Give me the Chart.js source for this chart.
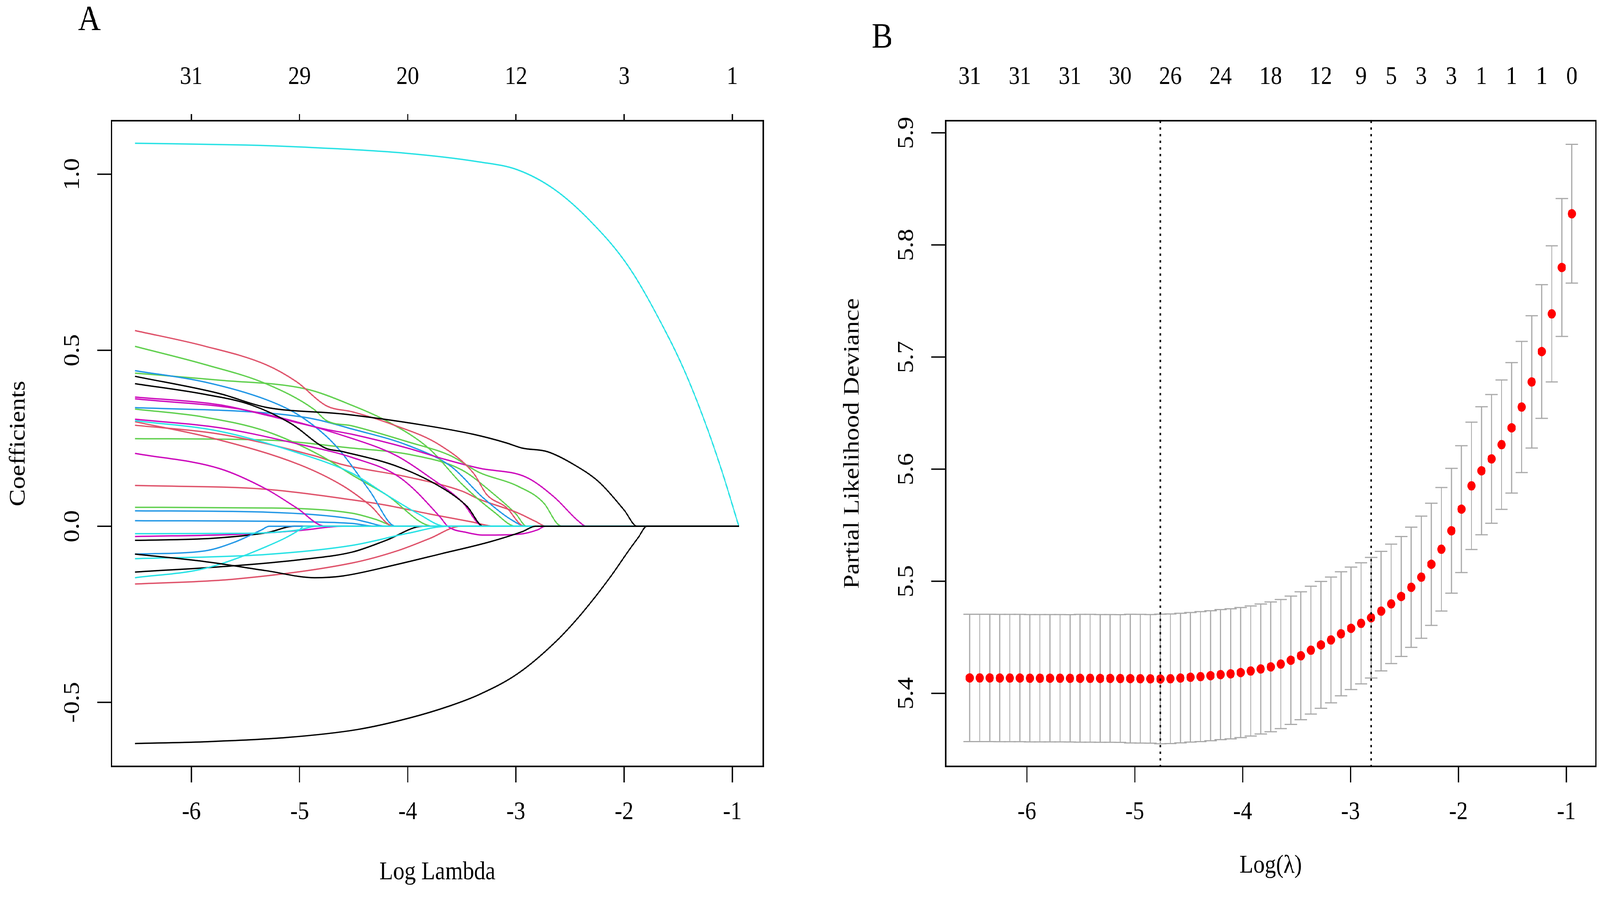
<!DOCTYPE html>
<html>
<head>
<meta charset="utf-8">
<title>LASSO coefficient paths and cross-validated deviance</title>
<script src="https://cdn.jsdelivr.net/npm/chart.js@4.4.0/dist/chart.umd.min.js"></script>
<style>
  html, body { margin: 0; padding: 0; background: #fff; overflow: hidden; }
  #wrap { position: relative; width: 4675px; height: 2304px; background: #fff; transform-origin: 0 0; }
  canvas { position: absolute; top: 0; }
  #panelA { left: 0; }
  #panelB { left: 2340px; }
</style>
</head>
<body>
<div id="wrap">
  <canvas id="panelA" width="2340" height="2304"></canvas>
  <canvas id="panelB" width="2335" height="2304"></canvas>
</div>
<script>
// ---------- Panel A: coefficient paths, [log lambda, coefficient] ----------
const black1 = [[-6.52,-0.617],[-5.88,-0.612],[-5.12,-0.6],[-4.46,-0.577],[-3.99,-0.545],[-3.61,-0.51],[-3.34,-0.478],[-2.99,-0.42],[-2.65,-0.333],[-2.39,-0.247],[-2.13,-0.145],[-1.96,-0.07],[-1.87,-0.032],[-1.79,0],[-0.94,0]];
const black2 = [[-6.52,0.426],[-5.74,0.377],[-5.31,0.338],[-4.6,0.319],[-3.85,0.287],[-3.39,0.261],[-3.09,0.237],[-2.94,0.222],[-2.71,0.212],[-2.48,0.178],[-2.23,0.125],[-2.0,0.046],[-1.88,0],[-0.94,0]];
const black3 = [[-6.52,0.405],[-5.88,0.375],[-5.45,0.345],[-5.08,0.292],[-4.76,0.222],[-4.6,0.212],[-4.07,0.167],[-3.655,0.104],[-3.45,0.056],[-3.3,0],[-0.94,0]];
const black4 = [[-6.52,-0.04],[-5.8,-0.034],[-5.3,-0.018],[-5.05,0],[-0.94,0]];
const black5 = [[-6.52,-0.079],[-5.88,-0.1],[-5.31,-0.126],[-4.86,-0.146],[-4.6,-0.141],[-4.15,-0.112],[-3.69,-0.078],[-3.24,-0.044],[-2.94,-0.015],[-2.82,0],[-0.94,0]];
const black6 = [[-6.52,-0.13],[-5.6,-0.112],[-5.0,-0.095],[-4.51,-0.073],[-4.2,-0.04],[-3.86,0],[-0.94,0]];

const red1 = [[-6.52,0.556],[-5.88,0.512],[-5.31,0.459],[-5.03,0.411],[-4.75,0.342],[-4.51,0.325],[-4.15,0.29],[-3.7,0.23],[-3.39,0.15],[-3.27,0.09],[-3.09,0.054],[-2.92,0],[-0.94,0]];
const red2 = [[-6.52,0.297],[-5.8,0.25],[-5.0,0.175],[-4.6,0.115],[-4.35,0.06],[-4.13,0],[-0.94,0]];
const red3 = [[-6.52,0.287],[-5.74,0.262],[-4.86,0.2],[-4.6,0.175],[-4.0,0.14],[-3.5,0.1],[-3.34,0.077],[-2.99,0.039],[-2.82,0.014],[-2.72,0],[-0.94,0]];
const red4 = [[-6.52,0.116],[-5.3,0.105],[-4.51,0.075],[-4.2,0.06],[-3.8,0.035],[-3.4,0.012],[-3.2,0],[-0.94,0]];
const red5 = [[-6.52,-0.164],[-5.6,-0.15],[-4.51,-0.104],[-4.1,-0.07],[-3.8,-0.035],[-3.51,0],[-0.94,0]];

const green1 = [[-6.52,0.511],[-5.88,0.46],[-5.31,0.405],[-4.87,0.333],[-4.75,0.3],[-4.51,0.285],[-4.0,0.24],[-3.6,0.2],[-3.34,0.153],[-2.99,0.115],[-2.74,0.065],[-2.62,0.008],[-2.57,0],[-0.94,0]];
const green2 = [[-6.52,0.435],[-5.74,0.415],[-4.94,0.39],[-4.51,0.343],[-4.2,0.3],[-3.8,0.22],[-3.5,0.12],[-3.2,0.04],[-3.0,0],[-0.94,0]];
const green3 = [[-6.52,0.333],[-5.88,0.31],[-5.31,0.27],[-4.8,0.2],[-4.51,0.145],[-4.2,0.09],[-3.76,0],[-0.94,0]];
const green4 = [[-6.52,0.249],[-5.31,0.245],[-4.51,0.222],[-4.0,0.205],[-3.5,0.16],[-3.2,0.09],[-3.0,0.035],[-2.9,0],[-0.94,0]];
const green5 = [[-6.52,0.054],[-5.3,0.052],[-4.51,0.037],[-4.3,0.02],[-4.1,0],[-0.94,0]];

const blue1 = [[-6.52,0.442],[-5.88,0.41],[-5.31,0.36],[-5.03,0.32],[-4.75,0.255],[-4.6,0.205],[-4.35,0.1],[-4.11,0],[-0.94,0]];
const blue2 = [[-6.52,0.337],[-5.31,0.322],[-4.87,0.305],[-4.51,0.276],[-4.0,0.23],[-3.6,0.17],[-3.3,0.08],[-3.05,0.02],[-2.9,0],[-0.94,0]];
const blue3 = [[-6.52,0.044],[-5.3,0.04],[-4.51,0.021],[-4.38,0.012],[-4.2,0],[-0.94,0]];
const blue4 = [[-6.52,0.016],[-5.0,0.013],[-4.51,0.008],[-4.3,0],[-0.94,0]];
const blue5 = [[-6.52,-0.079],[-5.88,-0.07],[-5.6,-0.045],[-5.35,-0.01],[-5.28,0],[-0.94,0]];

const cyan1 = [[-6.52,1.088],[-5.5,1.083],[-4.97,1.077],[-4.03,1.06],[-3.34,1.035],[-2.99,1.013],[-2.65,0.958],[-2.3,0.863],[-1.96,0.738],[-1.61,0.549],[-1.44,0.44],[-1.27,0.31],[-1.1,0.16],[-0.94,0]];
const cyan2 = [[-6.52,0.3],[-5.74,0.27],[-5.03,0.21],[-4.51,0.15],[-4.2,0.09],[-3.9,0.035],[-3.65,0],[-0.94,0]];
const cyan3 = [[-6.52,-0.021],[-5.5,-0.02],[-5.0,-0.01],[-4.85,0],[-0.94,0]];
const cyan4 = [[-6.52,-0.092],[-5.31,-0.08],[-4.51,-0.054],[-4.0,-0.02],[-3.63,0],[-0.94,0]];
const cyan5 = [[-6.52,-0.146],[-5.88,-0.12],[-5.31,-0.058],[-5.0,-0.01],[-4.96,0],[-0.94,0]];

const magenta1 = [[-6.52,0.367],[-5.74,0.345],[-5.31,0.316],[-5.03,0.295],[-4.75,0.275],[-4.51,0.261],[-4.0,0.222],[-3.655,0.19],[-3.34,0.165],[-2.91,0.14],[-2.65,0.084],[-2.42,0.014],[-2.35,0],[-0.94,0]];
const magenta2 = [[-6.52,0.362],[-5.5,0.33],[-4.51,0.249],[-4.1,0.2],[-3.8,0.14],[-3.5,0.07],[-3.3,0],[-0.94,0]];
const magenta3 = [[-6.52,0.304],[-5.74,0.28],[-5.03,0.235],[-4.51,0.195],[-4.07,0.138],[-3.7,0.026],[-3.63,0],[-3.45,-0.018],[-3.3,-0.025],[-2.96,-0.022],[-2.8,-0.01],[-2.73,0],[-0.94,0]];
const magenta4 = [[-6.52,0.207],[-5.74,0.164],[-5.31,0.106],[-5.03,0.053],[-4.76,0],[-0.94,0]];
const magenta5 = [[-6.52,-0.029],[-5.5,-0.022],[-5.0,-0.012],[-4.6,0],[-0.94,0]];

const xTicks = [-6, -5, -4, -3, -2, -1];
const topTextA = ['31', '29', '20', '12', '3', '1'];
const yTicksA = [-0.5, 0, 0.5, 1];
const yTextA = ['-0.5', '0.0', '0.5', '1.0'];

// ---------- Panel B: cross-validation curve ----------
const logLambdaB = [-6.530, -6.437, -6.344, -6.251, -6.158, -6.065, -5.972, -5.879, -5.786, -5.693,
  -5.600, -5.507, -5.414, -5.321, -5.228, -5.135, -5.042, -4.949, -4.856, -4.763,
  -4.670, -4.577, -4.484, -4.391, -4.298, -4.205, -4.112, -4.019, -3.926, -3.833,
  -3.740, -3.647, -3.554, -3.461, -3.368, -3.275, -3.182, -3.089, -2.996, -2.903,
  -2.810, -2.717, -2.624, -2.531, -2.438, -2.345, -2.252, -2.159, -2.066, -1.973,
  -1.880, -1.787, -1.694, -1.601, -1.508, -1.415, -1.322, -1.229, -1.136, -1.043, -0.950];
const cvMean = [5.4137, 5.4137, 5.4137, 5.4136, 5.4136, 5.4136, 5.4135, 5.4135, 5.4135, 5.4135,
  5.4134, 5.4134, 5.4134, 5.4133, 5.4133, 5.4132, 5.4131, 5.4130, 5.4129, 5.4128,
  5.4130, 5.4136, 5.4143, 5.4149, 5.4157, 5.4167, 5.4174, 5.4185, 5.4199, 5.4217,
  5.4236, 5.4261, 5.4295, 5.4335, 5.4385, 5.4432, 5.4476, 5.4531, 5.4580, 5.4624,
  5.4674, 5.4733, 5.4798, 5.4864, 5.4946, 5.5036, 5.5151, 5.5285, 5.5450, 5.5643,
  5.5851, 5.5985, 5.6091, 5.6218, 5.6368, 5.6554, 5.6778, 5.7049, 5.7385, 5.7799, 5.8278];
const cvSd = [0.0568, 0.0568, 0.0568, 0.0568, 0.0568, 0.0568, 0.0568, 0.0568, 0.0568, 0.0568,
  0.0568, 0.0570, 0.0570, 0.0570, 0.0570, 0.0570, 0.0574, 0.0574, 0.0574, 0.0578,
  0.0578, 0.0578, 0.0578, 0.0580, 0.0580, 0.0580, 0.0580, 0.0580, 0.0580, 0.0580,
  0.0579, 0.0576, 0.0572, 0.0571, 0.0570, 0.0566, 0.0561, 0.0553, 0.0546, 0.0540,
  0.0538, 0.0533, 0.0533, 0.0535, 0.0536, 0.0545, 0.0545, 0.0551, 0.0557, 0.0566,
  0.0568, 0.0571, 0.0574, 0.0577, 0.0582, 0.0585, 0.0590, 0.0596, 0.0607, 0.0615, 0.0619];
const topIdxB = [0, 5, 10, 15, 20, 25, 30, 35, 39, 42, 45, 48, 51, 54, 57, 60];
const topTextB = ['31', '31', '31', '30', '26', '24', '18', '12', '9', '5', '3', '3', '1', '1', '1', '0'];
const yTicksB = [5.4, 5.5, 5.6, 5.7, 5.8, 5.9];
const yTextB = ['5.4', '5.5', '5.6', '5.7', '5.8', '5.9'];

// R default palette
const RCOL = { black: '#000000', red: '#DF536B', green: '#61D04F', blue: '#2297E6', cyan: '#28E2E5', magenta: '#CD0BBC' };
const FONT = '"Liberation Serif", "Times New Roman", serif';

// first entry ends up on top
const coefPaths = [
  [black5, 'black'], [black2, 'black'], [black1, 'black'],
  [cyan3, 'cyan'], [cyan5, 'cyan'], [cyan4, 'cyan'], [cyan2, 'cyan'], [cyan1, 'cyan'],
  [blue5, 'blue'], [magenta3, 'magenta'], [black3, 'black'], [magenta2, 'magenta'],
  [red1, 'red'], [green1, 'green'], [blue1, 'blue'], [magenta1, 'magenta'],
  [green2, 'green'], [red2, 'red'], [blue2, 'blue'], [green3, 'green'],
  [red3, 'red'], [magenta4, 'magenta'], [green4, 'green'], [black6, 'black'],
  [red4, 'red'], [blue3, 'blue'], [green5, 'green'], [blue4, 'blue'],
  [black4, 'black'], [magenta5, 'magenta'], [red5, 'red']
];

// stretch the 4675 x 2304 layout over the whole viewport
const wrap = document.getElementById('wrap');
const sx = window.innerWidth / 4675, sy = window.innerHeight / 2304;
wrap.style.transform = 'scale(' + sx + ',' + sy + ')';

function seg(ctx, x1, y1, x2, y2) {
  ctx.beginPath();
  ctx.moveTo(x1, y1);
  ctx.lineTo(x2, y2);
  ctx.stroke();
}

function upText(ctx, txt, x, y) {
  ctx.save();
  ctx.translate(x, y);
  ctx.rotate(-Math.PI / 2);
  ctx.fillText(txt, 0, 0);
  ctx.restore();
}

// R-style box and axes, drawn from the chart's scales
const rAxes = {
  id: 'rAxes',
  afterDraw(chart, args, o) {
    const { ctx, chartArea: a } = chart;
    const xs = chart.scales.x, ys = chart.scales.y;
    ctx.save();
    ctx.fillStyle = '#000';
    ctx.strokeStyle = '#000';
    ctx.lineWidth = 4;
    ctx.strokeRect(a.left, a.top, a.right - a.left, a.bottom - a.top);

    ctx.lineWidth = 3.5;
    ctx.font = '66px ' + FONT;
    ctx.textAlign = 'center';
    ctx.textBaseline = 'alphabetic';

    o.xTicks.forEach(v => {
      const px = xs.getPixelForValue(v);
      seg(ctx, px, a.bottom, px, a.bottom + 41);
      ctx.fillText(String(v), px, a.bottom + 135);
    });

    o.yTicks.forEach((v, i) => {
      const py = ys.getPixelForValue(v);
      seg(ctx, a.left - 42, py, a.left, py);
      upText(ctx, o.yText[i], a.left - 96, py);
    });

    o.topAt.forEach((v, i) => {
      const px = xs.getPixelForValue(v);
      if (o.topTicks) seg(ctx, px, a.top - 17, px, a.top);
      ctx.fillText(o.topText[i], px, a.top - 94);
    });

    ctx.fillText(o.xTitle, (a.left + a.right) / 2, a.bottom + o.xTitleOff);
    upText(ctx, o.yTitle, a.left - 254, (a.top + a.bottom) / 2);

    ctx.font = '92px ' + FONT;
    ctx.fillText(o.letter, o.letterX, o.letterY);
    ctx.restore();
  }
};

// error bars under the points, the two lambda lines over them
const cvBars = {
  id: 'cvBars',
  beforeDatasetsDraw(chart) {
    const { ctx, scales: { x, y } } = chart;
    ctx.save();
    ctx.strokeStyle = '#A9A9A9';
    ctx.lineWidth = 3;
    logLambdaB.forEach((l, i) => {
      const px = x.getPixelForValue(l);
      const hi = y.getPixelForValue(cvMean[i] + cvSd[i]);
      const lo = y.getPixelForValue(cvMean[i] - cvSd[i]);
      seg(ctx, px, hi, px, lo);
      seg(ctx, px - 18, hi, px + 18, hi);
      seg(ctx, px - 18, lo, px + 18, lo);
    });
    ctx.restore();
  },
  afterDatasetsDraw(chart) {
    const { ctx, chartArea: a, scales: { x } } = chart;
    // lambda.min and lambda.1se from the curve itself
    let iMin = 0;
    cvMean.forEach((v, i) => { if (v < cvMean[iMin]) iMin = i; });
    const limit = cvMean[iMin] + cvSd[iMin];
    let i1se = iMin;
    cvMean.forEach((v, i) => { if (i > iMin && v <= limit) i1se = i; });
    ctx.save();
    ctx.strokeStyle = '#000';
    ctx.lineWidth = 4;
    ctx.setLineDash([6, 11]);
    [iMin, i1se].forEach(i => {
      const px = x.getPixelForValue(logLambdaB[i]);
      seg(ctx, px, a.top, px, a.bottom);
    });
    ctx.restore();
  }
};

Chart.defaults.font.family = FONT;

new Chart(document.getElementById('panelA'), {
  type: 'line',
  data: {
    datasets: coefPaths.map(([pts, col]) => ({
      data: pts.map(p => ({ x: p[0], y: p[1] })),
      borderColor: RCOL[col],
      borderWidth: 3.5,
      pointRadius: 0,
      fill: false,
      cubicInterpolationMode: 'monotone'
    }))
  },
  options: {
    responsive: false,
    animation: false,
    devicePixelRatio: 1,
    layout: { padding: { left: 326, right: 110, top: 309, bottom: 342 } },
    scales: {
      x: { type: 'linear', min: -6.737, max: -0.715, display: false },
      y: { type: 'linear', min: -0.682, max: 1.152, display: false }
    },
    plugins: {
      legend: { display: false },
      tooltip: { enabled: false },
      rAxes: {
        xTicks: xTicks, yTicks: yTicksA, yText: yTextA,
        topAt: xTicks, topText: topTextA, topTicks: true,
        xTitle: 'Log Lambda', xTitleOff: 289, yTitle: 'Coefficients',
        letter: 'A', letterX: 261, letterY: 77
      }
    }
  },
  plugins: [rAxes]
});

new Chart(document.getElementById('panelB'), {
  type: 'scatter',
  data: {
    datasets: [{
      data: logLambdaB.map((l, i) => ({ x: l, y: cvMean[i] })),
      pointRadius: 12,
      pointBackgroundColor: '#FF0000',
      pointBorderWidth: 0,
      borderColor: '#FF0000'
    }]
  },
  options: {
    responsive: false,
    animation: false,
    devicePixelRatio: 1,
    layout: { padding: { left: 423, right: 9, top: 309, bottom: 342 } },
    scales: {
      x: { type: 'linear', min: -6.753, max: -0.727, display: false },
      y: { type: 'linear', min: 5.3348, max: 5.9108, display: false }
    },
    plugins: {
      legend: { display: false },
      tooltip: { enabled: false },
      rAxes: {
        xTicks: xTicks, yTicks: yTicksB, yText: yTextB,
        topAt: topIdxB.map(i => logLambdaB[i]), topText: topTextB, topTicks: false,
        xTitle: 'Log(λ)', xTitleOff: 272, yTitle: 'Partial Likelihood Deviance',
        letter: 'B', letterX: 238, letterY: 122
      }
    }
  },
  plugins: [cvBars, rAxes]
});
</script>
</body>
</html>
